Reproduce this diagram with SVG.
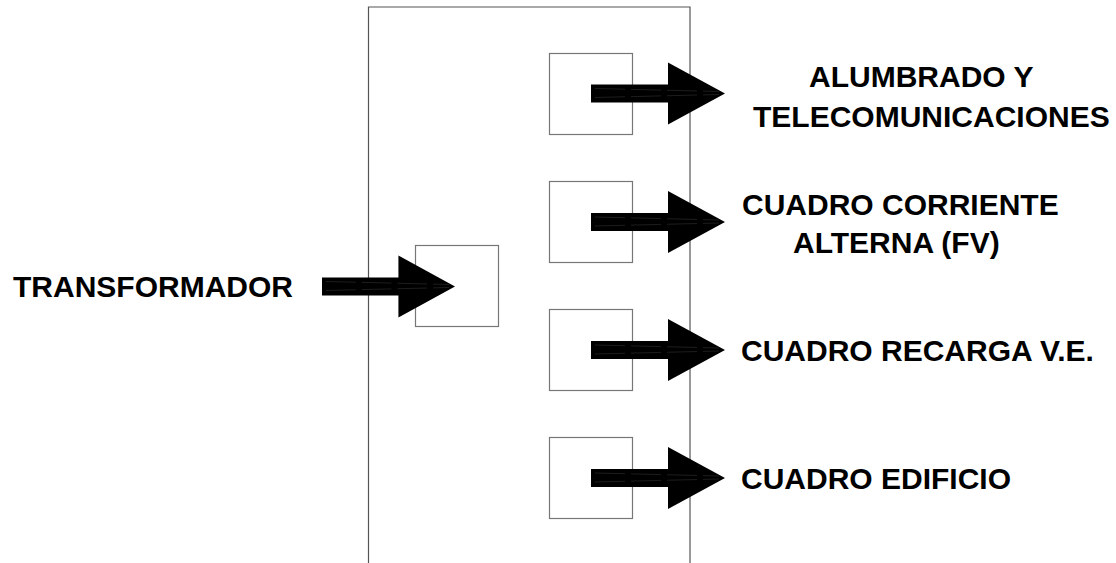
<svg xmlns="http://www.w3.org/2000/svg" width="1116" height="563" viewBox="0 0 1116 563">
  <style>
    .frame { fill: none; stroke: #555; stroke-width: 1.2; }
    .box { fill: #fff; stroke: #777; stroke-width: 1.2; }
    .arrow { fill: #000; stroke: none; }
    .hatch { fill: none; stroke: #2a2a2a; stroke-width: 0.7; stroke-dasharray: 30 6; }
    .label { font-family: "Liberation Sans", Arial, sans-serif; font-weight: bold; font-size: 30px; fill: #000; }
  </style>
  <defs>
    <!-- right-pointing block arrow, origin at shaft start / centre line -->
    <g id="blockArrow">
      <path class="arrow" d="M0,-9 H77 V-31 L134,0 L77,31 V9 H0 Z"/>
      <path class="hatch" d="M4,-5 L128,-2 M4,4 L128,1"/>
    </g>
  </defs>

  <rect width="1116" height="563" fill="#fff"/>

  <!-- switchboard enclosure (open at the bottom) -->
  <path class="frame" d="M368.5,570 V7 H690 V570"/>

  <g id="input-box"><rect class="box" x="415.5" y="245.5" width="83" height="81"/></g>
  <g id="out-box-1"><rect class="box" x="549.5" y="53.5" width="83" height="81"/></g>
  <g id="out-box-2"><rect class="box" x="549.5" y="181.5" width="83" height="81"/></g>
  <g id="out-box-3"><rect class="box" x="549.5" y="309.5" width="83" height="81"/></g>
  <g id="out-box-4"><rect class="box" x="549.5" y="437.5" width="83" height="81"/></g>

  <g id="connectors">
    <use href="#blockArrow" transform="translate(322,286.5) scale(0.9925,1)"/>
    <use href="#blockArrow" transform="translate(591,93.5)"/>
    <use href="#blockArrow" transform="translate(591,222)"/>
    <use href="#blockArrow" transform="translate(591,350)"/>
    <use href="#blockArrow" transform="translate(591,478)"/>
  </g>

  <g id="transformador"><text class="label" x="13" y="297">TRANSFORMADOR</text></g>
  <g id="alumbrado">
    <text class="label" x="809" y="87">ALUMBRADO Y</text>
    <text class="label" x="753" y="127">TELECOMUNICACIONES</text>
  </g>
  <g id="corriente-alterna">
    <text class="label" x="742" y="215">CUADRO CORRIENTE</text>
    <text class="label" x="793" y="253">ALTERNA (FV)</text>
  </g>
  <g id="recarga"><text class="label" x="741" y="361">CUADRO RECARGA V.E.</text></g>
  <g id="edificio"><text class="label" x="741" y="489">CUADRO EDIFICIO</text></g>
</svg>
